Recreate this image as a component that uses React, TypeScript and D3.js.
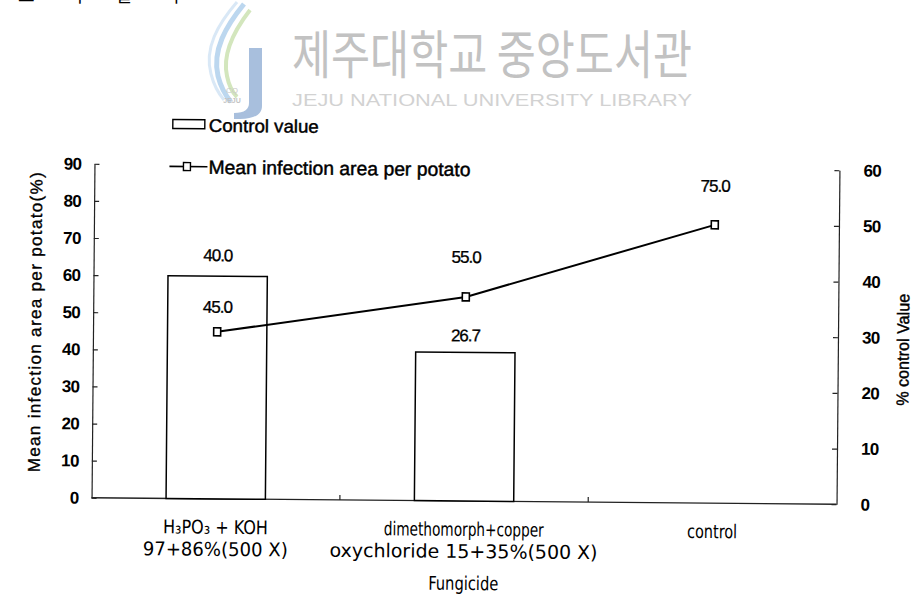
import React, { useEffect, useRef } from 'react';
import * as d3 from 'd3';

// values
const categories = ['h3po3', 'dimethomorph', 'control'];
const categoryLines: string[][] = [
  ['H₃PO₃  +  KOH', '97+86%(500 X)'],
  ['dimethomorph+copper', 'oxychloride 15+35%(500 X)'],
  ['control'],
];
const controlValue: (number | null)[] = [40.0, 26.7, null];
const meanInfection: number[] = [45.0, 55.0, 75.0];
const leftTicks = [0, 10, 20, 30, 40, 50, 60, 70, 80, 90];
const rightTicks = [0, 10, 20, 30, 40, 50, 60];
const seriesNames = ['Control value', 'Mean infection area per potato'];

// layout tweaks (px)
const categoryLineWidths = [[105, 145], [160, 268], [50]];
const controlLift = [21, 17, 0];
const meanLift = [25, 40, 39];

const App = () => {
  const svgRef = useRef<SVGSVGElement>(null);

  useEffect(() => {
    if (!svgRef.current) return;
    const svg = d3.select(svgRef.current);
    svg.selectAll('*').remove();

    const dims = { left: 93, right: 838, top: 167, bottom: 501 };
    const arial = '"Liberation Sans", Arial, sans-serif';
    const gulim = '"DejaVu Sans Condensed", "DejaVu Sans", sans-serif';

    drawWatermark(svg);

    // scanned page is a little tilted
    const ctr = svg.append('g').attr('transform', 'rotate(0.5, 465, 334)');

    const x = d3.scaleBand<string>().domain(categories).range([dims.left, dims.right]);
    const yLeft = d3.scaleLinear().domain([0, 90]).range([dims.bottom, dims.top]);
    const yRight = d3.scaleLinear().domain([0, 60]).range([dims.bottom, dims.top]);
    const bw = x.bandwidth() * 0.4;
    const cx = (c: string) => (x(c) as number) + x.bandwidth() / 2;

    // axes
    const leftAxis = ctr.append('g')
      .attr('transform', `translate(${dims.left},0)`)
      .call(d3.axisLeft(yLeft).tickValues(leftTicks).tickSizeInner(-5).tickSizeOuter(0).tickPadding(13));
    const rightAxis = ctr.append('g')
      .attr('transform', `translate(${dims.right},0)`)
      .call(d3.axisRight(yRight).tickValues(rightTicks).tickSizeInner(-5).tickSizeOuter(0).tickPadding(24));
    [leftAxis, rightAxis].forEach(a => {
      a.select('.domain').attr('stroke', '#222').attr('stroke-width', 1.2);
      a.selectAll('.tick line').attr('stroke', '#222').attr('stroke-width', 1.2);
      a.selectAll('.tick text')
        .attr('font-family', arial)
        .attr('font-size', 17)
        .attr('font-weight', 'bold')
        .attr('letter-spacing', -0.6)
        .attr('fill', '#000');
    });

    ctr.append('line')
      .attr('x1', dims.left).attr('x2', dims.right)
      .attr('y1', dims.bottom).attr('y2', dims.bottom)
      .attr('stroke', '#222').attr('stroke-width', 1.4);
    ctr.selectAll('.xtick')
      .data(categories.slice(1))
      .join('line')
      .attr('class', 'xtick')
      .attr('x1', d => x(d) as number).attr('x2', d => x(d) as number)
      .attr('y1', dims.bottom).attr('y2', dims.bottom - 5)
      .attr('stroke', '#222').attr('stroke-width', 1.2);

    // bars (right axis)
    const barData = categories
      .map((c, i) => ({ c, v: controlValue[i], lift: controlLift[i] }))
      .filter(d => d.v !== null) as { c: string; v: number; lift: number }[];

    ctr.selectAll('.bar')
      .data(barData)
      .join('rect')
      .attr('class', 'bar')
      .attr('x', d => cx(d.c) - bw / 2)
      .attr('width', bw)
      .attr('y', d => yRight(d.v))
      .attr('height', d => dims.bottom - yRight(d.v))
      .attr('fill', '#fff')
      .attr('stroke', '#000')
      .attr('stroke-width', 1.5);

    ctr.selectAll('.barlabel')
      .data(barData)
      .join('text')
      .attr('class', 'barlabel')
      .attr('x', d => cx(d.c))
      .attr('y', d => yRight(d.v) - d.lift)
      .attr('dy', '0.35em')
      .attr('text-anchor', 'middle')
      .attr('font-family', arial)
      .attr('font-size', 17)
      .attr('letter-spacing', -1)
      .attr('stroke', '#000').attr('stroke-width', 0.3)
      .text(d => d.v.toFixed(1));

    // line (left axis)
    const lineData = categories.map((c, i) => ({ c, v: meanInfection[i], lift: meanLift[i] }));
    const line = d3.line<{ c: string; v: number }>().x(d => cx(d.c)).y(d => yLeft(d.v));
    ctr.append('path')
      .datum(lineData)
      .attr('d', line)
      .attr('fill', 'none')
      .attr('stroke', '#000')
      .attr('stroke-width', 2);
    ctr.selectAll('.marker')
      .data(lineData)
      .join('rect')
      .attr('class', 'marker')
      .attr('x', d => cx(d.c) - 3.5)
      .attr('y', d => yLeft(d.v) - 4)
      .attr('width', 7).attr('height', 8)
      .attr('fill', '#fff').attr('stroke', '#000').attr('stroke-width', 1.6);
    ctr.selectAll('.linelabel')
      .data(lineData)
      .join('text')
      .attr('class', 'linelabel')
      .attr('x', d => cx(d.c))
      .attr('y', d => yLeft(d.v) - d.lift)
      .attr('dy', '0.35em')
      .attr('text-anchor', 'middle')
      .attr('font-family', arial)
      .attr('font-size', 17)
      .attr('letter-spacing', -1)
      .attr('stroke', '#000').attr('stroke-width', 0.3)
      .text(d => d.v.toFixed(1));

    // category labels (tall, narrow glyphs like the scanned font)
    categories.forEach((c, i) => {
      categoryLines[i].forEach((txt, j) => {
        ctr.append('text')
          .attr('x', cx(c))
          .attr('y', 536 + j * 22)
          .attr('text-anchor', 'middle')
          .attr('font-family', gulim)
          .attr('font-size', 19)
          .attr('textLength', categoryLineWidths[i][j])
          .attr('lengthAdjust', 'spacingAndGlyphs')
          .text(txt);
      });
    });
    ctr.append('text')
      .attr('x', (dims.left + dims.right) / 2)
      .attr('y', 590)
      .attr('text-anchor', 'middle')
      .attr('font-family', gulim)
      .attr('font-size', 19)
      .attr('textLength', 70)
      .attr('lengthAdjust', 'spacingAndGlyphs')
      .text('Fungicide');

    // axis titles
    ctr.append('text')
      .attr('transform', `translate(35, 326) rotate(-90)`)
      .attr('text-anchor', 'middle')
      .attr('dy', '0.35em')
      .attr('font-family', arial)
      .attr('font-size', 17)
      .attr('textLength', 300)
      .attr('lengthAdjust', 'spacing')
      .attr('stroke', '#000').attr('stroke-width', 0.35)
      .text('Mean infection area per potato(%)');
    ctr.append('text')
      .attr('transform', `translate(903, 346) rotate(-90)`)
      .attr('text-anchor', 'middle')
      .attr('dy', '0.35em')
      .attr('font-family', arial)
      .attr('font-size', 17)
      .attr('textLength', 112)
      .attr('lengthAdjust', 'spacingAndGlyphs')
      .attr('stroke', '#000').attr('stroke-width', 0.4)
      .text('% control Value');

    // legend
    const lg = ctr.append('g');
    lg.append('rect')
      .attr('x', 171).attr('y', 122).attr('width', 32).attr('height', 9)
      .attr('fill', '#fff').attr('stroke', '#000').attr('stroke-width', 1.4);
    lg.append('text')
      .attr('x', 207).attr('y', 134)
      .attr('font-family', arial).attr('font-size', 18)
      .attr('stroke', '#000').attr('stroke-width', 0.45)
      .attr('textLength', 110).attr('lengthAdjust', 'spacingAndGlyphs')
      .text(seriesNames[0]);
    lg.append('line')
      .attr('x1', 168).attr('x2', 206).attr('y1', 169).attr('y2', 169)
      .attr('stroke', '#000').attr('stroke-width', 1.6);
    lg.append('rect')
      .attr('x', 182).attr('y', 165).attr('width', 7).attr('height', 8)
      .attr('fill', '#fff').attr('stroke', '#000').attr('stroke-width', 1.4);
    lg.append('text')
      .attr('x', 207).attr('y', 176)
      .attr('font-family', arial).attr('font-size', 19)
      .attr('stroke', '#000').attr('stroke-width', 0.45)
      .attr('textLength', 262).attr('lengthAdjust', 'spacingAndGlyphs')
      .text(seriesNames[1]);

    // clipped heading left over from the page above
    svg.append('text')
      .attr('x', 18).attr('y', 2)
      .attr('font-family', '"Noto Sans CJK KR", sans-serif').attr('font-size', 18)
      .attr('letter-spacing', 14)
      .text('도 의 결 과');
  }, []);

  function drawWatermark(svg: d3.Selection<SVGSVGElement, unknown, null, undefined>) {
    const wm = svg.append('g');
    wm.append('path')
      .attr('d', 'M244,4 C226,26 212,50 218,76 C221,88 226,96 231,102')
      .attr('fill', 'none').attr('stroke', '#bcd7ef').attr('stroke-width', 5);
    wm.append('path')
      .attr('d', 'M250,10 C233,32 222,54 227,76 C229,86 233,93 237,97')
      .attr('fill', 'none').attr('stroke', '#d3e6bd').attr('stroke-width', 4);
    wm.append('path')
      .attr('d', 'M237,2 C218,24 204,48 211,74 C214,86 219,94 224,100')
      .attr('fill', 'none').attr('stroke', '#d9e8f6').attr('stroke-width', 3);
    wm.append('path')
      .attr('d', 'M249,48 L262,48 L262,106 C262,114 255,119 240,119 L234,119 L234,113 C245,113 249,109 249,103 Z')
      .attr('fill', '#a8bfdd');
    wm.append('text')
      .attr('x', 232).attr('y', 93).attr('text-anchor', 'middle')
      .attr('font-family', 'sans-serif').attr('font-size', 8).attr('fill', '#c9c9c9')
      .text('CQ');
    wm.append('text')
      .attr('x', 232).attr('y', 103).attr('text-anchor', 'middle')
      .attr('font-family', 'sans-serif').attr('font-size', 7).attr('font-weight', 'bold')
      .attr('fill', '#c3c3c3')
      .text('JEJU');
    wm.append('text')
      .attr('x', 292).attr('y', 74)
      .attr('font-family', '"Noto Sans CJK KR", sans-serif').attr('font-size', 52)
      .attr('textLength', 400).attr('lengthAdjust', 'spacingAndGlyphs')
      .attr('fill', '#c2c2c2')
      .text('제주대학교 중앙도서관');
    wm.append('text')
      .attr('x', 292).attr('y', 106)
      .attr('font-family', '"Liberation Sans", Arial, sans-serif').attr('font-size', 16)
      .attr('textLength', 400).attr('lengthAdjust', 'spacingAndGlyphs')
      .attr('fill', '#d2d2d2')
      .text('JEJU NATIONAL UNIVERSITY LIBRARY');
  }

  return (
    <div>
      <svg
        ref={svgRef}
        width={915}
        height={597}
        style={{ position: 'absolute', left: 0, top: 0, background: '#fff' }}
      />
    </div>
  );
};

export default App;
